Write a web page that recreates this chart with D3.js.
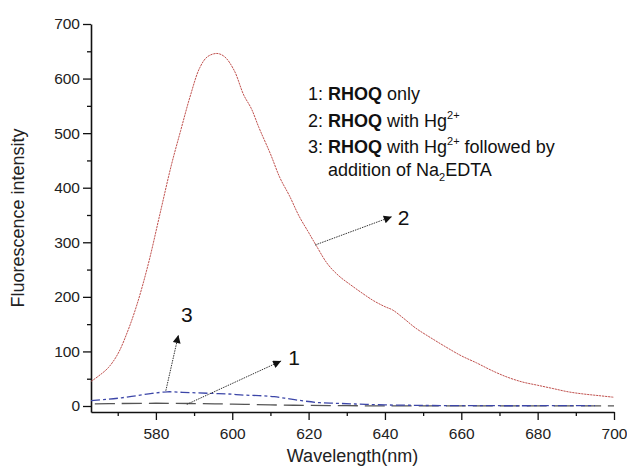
<!DOCTYPE html>
<html>
<head>
<meta charset="utf-8">
<script src="https://cdn.jsdelivr.net/npm/d3@7"></script>
<style>
  html, body { margin: 0; padding: 0; background: #fff; }
  svg { display: block; font-family: "Liberation Sans", Arial, sans-serif; }
</style>
</head>
<body>
<svg id="chart" width="627" height="469"></svg>
<script>
// ---- data ----
const redX  = [563, 565, 567.5, 570, 572.5, 575, 578, 581, 584, 586.5, 589, 591.5, 593.5, 596, 598, 600.5, 603, 605, 607, 610, 612.5, 615, 617.5, 620, 622, 625, 628, 631, 634, 637, 640, 642, 645, 648, 652, 656, 660, 664, 668, 672, 676, 680, 684, 688, 692, 696, 700];
const redY  = [45, 55, 70, 95, 135, 185, 260, 350, 440, 505, 568, 620, 640, 646, 640, 615, 570, 545, 510, 462, 418, 385, 348, 318, 294, 260, 238, 222, 207, 193, 182, 176, 160, 143, 125, 108, 92, 79, 65, 53, 44, 38, 32, 26, 22, 19, 16];

const blueX = [563, 567, 571, 575, 579, 583, 587, 591, 595, 599, 603, 607, 611, 615, 619, 623, 627, 631, 635, 640, 645, 650, 660, 670, 680, 690, 695];
const blueY = [10, 12, 15, 19, 23, 26, 25, 24, 23, 22, 20, 19, 17, 13, 9, 6, 5, 4, 3, 2, 1.5, 1, 0.6, 0.5, 0.5, 0.5, 0.5];

const grayX = [564, 570, 580, 590, 600, 610, 620, 630, 640, 660, 680, 700];
const grayY = [4, 4.5, 5, 4.5, 3.5, 2, 1, 0.5, 0.3, 0.3, 0.3, 0.3];

const xMajorTicks = [580, 600, 620, 640, 660, 680, 700];
const xMinorTicks = [570, 590, 610, 630, 650, 670, 690];
const yMajorTicks = [0, 100, 200, 300, 400, 500, 600, 700];
const yMinorTicks = [50, 150, 250, 350, 450, 550, 650];

// annotation arrows: [label, fromX, fromY, toX, toY, labelX, labelY] in data units
const arrowLabels = ["1", "2", "3"];
const arrowFromX  = [588.1, 621.7, 582.6];
const arrowFromY  = [3, 295, 28];
const arrowToX    = [612.8, 641.8, 585.9];
const arrowToY    = [82.5, 347, 130];
const labelX      = [616.2, 644.9, 588.1];
const labelY      = [75, 332, 154];

// ---- chart ----
const svg = d3.select("#chart");
const x = d3.scaleLinear().domain([563, 700]).range([91, 614]);
const y = d3.scaleLinear().domain([-11, 700]).range([412, 24]);

const defs = svg.append("defs");
defs.append("marker")
  .attr("id", "ah").attr("viewBox", "0 0 10 10")
  .attr("refX", 10).attr("refY", 5)
  .attr("markerWidth", 11).attr("markerHeight", 8)
  .attr("markerUnits", "userSpaceOnUse")
  .attr("orient", "auto")
  .append("path").attr("d", "M0,0 L10,5 L0,10 Z").attr("fill", "#111");

// axes
const axisColor = "#111";
const gx = svg.append("g").attr("transform", `translate(0,${y(-11)})`)
  .call(d3.axisBottom(x).tickValues(xMajorTicks).tickSize(8).tickSizeOuter(0).tickPadding(8).tickFormat(d3.format("d")));
svg.append("g").attr("transform", `translate(0,${y(-11)})`)
  .call(d3.axisBottom(x).tickValues(xMinorTicks).tickSize(4).tickSizeOuter(0).tickFormat(""))
  .select(".domain").remove();
const gy = svg.append("g").attr("transform", `translate(${x(563)},0)`)
  .call(d3.axisLeft(y).tickValues(yMajorTicks).tickSize(8).tickSizeOuter(0).tickPadding(3).tickFormat(d3.format("d")));
svg.append("g").attr("transform", `translate(${x(563)},0)`)
  .call(d3.axisLeft(y).tickValues(yMinorTicks).tickSize(4).tickSizeOuter(0).tickFormat(""))
  .select(".domain").remove();

svg.selectAll(".domain").attr("stroke", axisColor).attr("stroke-width", 1.6);
svg.selectAll(".tick line").attr("stroke", axisColor).attr("stroke-width", 1.3);
svg.selectAll(".tick text").attr("fill", "#222").style("font-size", "15.5px")
  .style("font-family", "'Liberation Sans', Arial, sans-serif");

// axis titles
svg.append("text").attr("x", (x(563) + x(700)) / 2).attr("y", 462)
  .attr("text-anchor", "middle").attr("fill", "#222").style("font-size", "18px")
  .text("Wavelength(nm)");
svg.append("text").attr("transform", `translate(24,${(y(700) + y(-11)) / 2}) rotate(-90)`)
  .attr("text-anchor", "middle").attr("fill", "#222").style("font-size", "18px")
  .text("Fluorescence intensity");

// lines
const line = d3.line().x(d => x(d[0])).y(d => y(d[1])).curve(d3.curveCatmullRom.alpha(0.5));
const plot = svg.append("g");
plot.append("path").datum(d3.zip(grayX, grayY)).attr("d", line)
  .attr("fill", "none").attr("stroke", "#555").attr("stroke-width", 1.3)
  .attr("stroke-dasharray", "20,7");
plot.append("path").datum(d3.zip(blueX, blueY)).attr("d", line)
  .attr("fill", "none").attr("stroke", "#3c46a8").attr("stroke-width", 1.3)
  .attr("stroke-dasharray", "9,3,3,3");
plot.append("path").datum(d3.zip(redX, redY)).attr("d", line)
  .attr("fill", "none").attr("stroke", "#c0504d").attr("stroke-width", 1)
  .attr("stroke-dasharray", "2.2,0.8");

// arrows + labels
arrowLabels.forEach((lab, i) => {
  svg.append("line")
    .attr("x1", x(arrowFromX[i])).attr("y1", y(arrowFromY[i]))
    .attr("x2", x(arrowToX[i])).attr("y2", y(arrowToY[i]))
    .attr("stroke", "#333").attr("stroke-width", 1)
    .attr("stroke-dasharray", "1.5,1")
    .attr("marker-end", "url(#ah)");
  svg.append("text").attr("x", x(labelX[i])).attr("y", y(labelY[i]))
    .attr("text-anchor", "middle").attr("fill", "#111").style("font-size", "21px")
    .text(lab);
});

// legend text
const legend = svg.append("g").attr("fill", "#111").style("font-size", "18px");
const l1 = legend.append("text").attr("x", 308).attr("y", 100);
l1.append("tspan").text("1: ");
l1.append("tspan").attr("font-weight", "bold").text("RHOQ");
l1.append("tspan").text(" only");

const l2 = legend.append("text").attr("x", 308).attr("y", 127);
l2.append("tspan").text("2: ");
l2.append("tspan").attr("font-weight", "bold").text("RHOQ");
l2.append("tspan").text(" with Hg");
l2.append("tspan").attr("dy", -8).style("font-size", "11px").text("2+");

const l3 = legend.append("text").attr("x", 308).attr("y", 153);
l3.append("tspan").text("3: ");
l3.append("tspan").attr("font-weight", "bold").text("RHOQ");
l3.append("tspan").text(" with Hg");
l3.append("tspan").attr("dy", -8).style("font-size", "11px").text("2+");
l3.append("tspan").attr("dy", 8).text(" followed by");

const l4 = legend.append("text").attr("x", 328).attr("y", 176);
l4.append("tspan").text("addition of Na");
l4.append("tspan").attr("dy", 5).style("font-size", "11px").text("2");
l4.append("tspan").attr("dy", -5).text("EDTA");
</script>
</body>
</html>
